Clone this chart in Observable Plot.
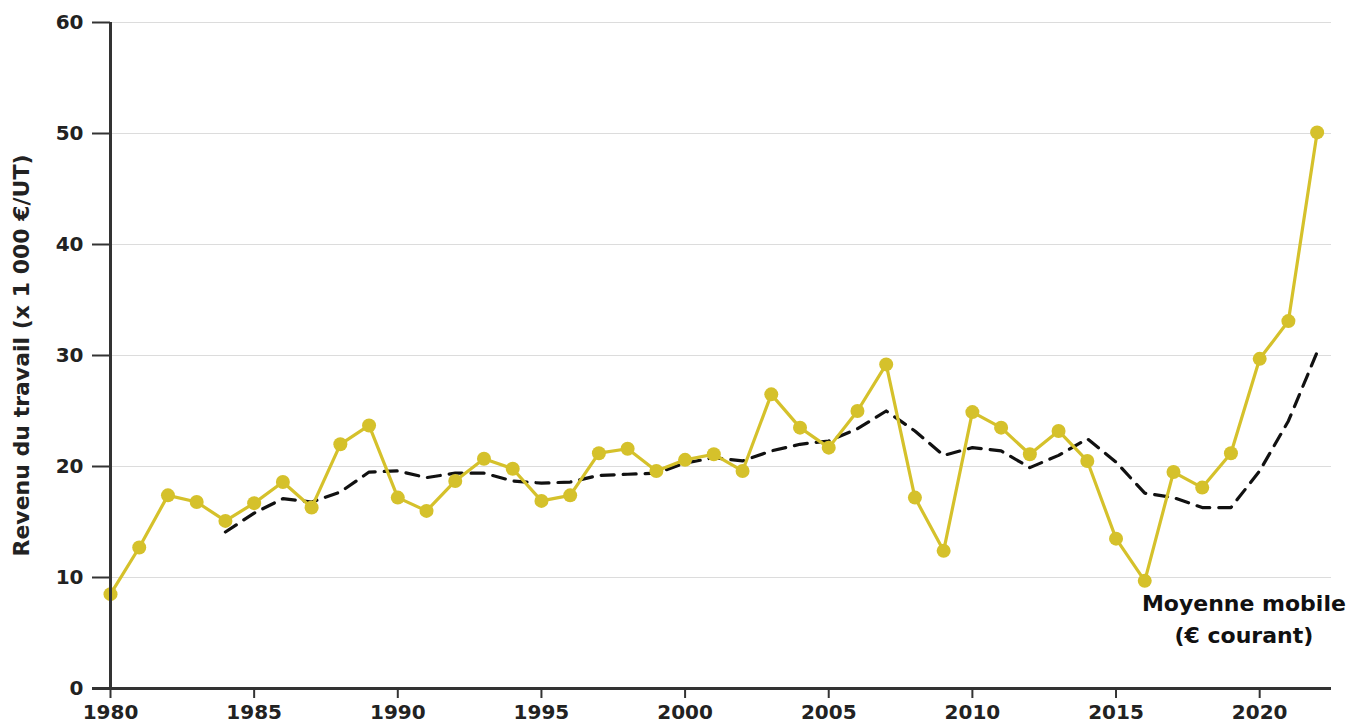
<!DOCTYPE html>
<html>
<head>
<meta charset="utf-8">
<script src="https://cdn.jsdelivr.net/npm/d3@7"></script>
<script src="https://cdn.jsdelivr.net/npm/@observablehq/plot@0.6"></script>
<style>
  html, body { margin: 0; padding: 0; background: #fff; }
  #chart { width: 1354px; height: 726px; overflow: hidden; }
</style>
</head>
<body>
<div id="chart"></div>
<script>
const years = d3.range(1980, 2023);
const revenu = [8.5, 12.7, 17.4, 16.8, 15.1, 16.7, 18.6, 16.3, 22.0, 23.7,
  17.2, 16.0, 18.7, 20.7, 19.8, 16.9, 17.4, 21.2, 21.6, 19.6,
  20.6, 21.1, 19.6, 26.5, 23.5, 21.7, 25.0, 29.2, 17.2, 12.4,
  24.9, 23.5, 21.1, 23.2, 20.5, 13.5, 9.7, 19.5, 18.1, 21.2,
  29.7, 33.1, 50.1];
const maYears = d3.range(1984, 2023);
const moyenneMobile = [14.1, 15.8, 17.1, 16.8, 17.7, 19.5,
  19.6, 19.0, 19.4, 19.4, 18.7, 18.5, 18.6, 19.2, 19.3, 19.4,
  20.3, 20.8, 20.5, 21.4, 22.0, 22.3, 23.4, 25.0, 23.2, 21.0,
  21.7, 21.4, 19.9, 21.0, 22.5, 20.4, 17.6, 17.2, 16.3, 16.3,
  19.6, 24.1, 30.3];
const yTicks = [0, 10, 20, 30, 40, 50, 60];
const xTicks = [1980, 1985, 1990, 1995, 2000, 2005, 2010, 2015, 2020];
const yLabel = "Revenu du travail (x 1 000 €/UT)";
const annotation = [{year: 2019.45, value: 6.5, text: "Moyenne mobile\n(€ courant)"}];

const series = years.map((y, i) => ({year: y, value: revenu[i]}));
const ma = maYears.map((y, i) => ({year: y, value: moyenneMobile[i]}));

const yellow = "#d5c12b";
const ink = "#222";
const font = "'DejaVu Sans', sans-serif";

const chart = Plot.plot({
  width: 1354,
  height: 726,
  marginLeft: 110,
  marginRight: 23,
  marginTop: 22,
  marginBottom: 38,
  style: {fontFamily: font, background: "#fff", overflow: "visible"},
  x: {domain: [1980, 2022.5]},
  y: {domain: [0, 60]},
  marks: [
    Plot.gridY(yTicks, {stroke: "#dcdcdc", strokeOpacity: 1, strokeWidth: 1.2}),
    Plot.line(ma, {x: "year", y: "value", stroke: "#111", strokeWidth: 3.2, strokeDasharray: "13,9"}),
    Plot.line(series, {x: "year", y: "value", stroke: yellow, strokeWidth: 3.2}),
    Plot.dot(series, {x: "year", y: "value", r: 7, fill: yellow}),
    Plot.ruleX([1980], {stroke: "#333", strokeWidth: 3}),
    Plot.ruleY([0], {stroke: "#333", strokeWidth: 3, insetLeft: -18}),
    Plot.axisY({ticks: yTicks, tickSize: 18, tickPadding: 9, fontSize: 20, fontWeight: "bold",
      stroke: "#333", strokeWidth: 2, color: ink, label: null}),
    Plot.axisX({ticks: xTicks, tickFormat: d => String(d), tickSize: 10, tickPadding: 6,
      fontSize: 20, fontWeight: "bold", stroke: "#333", strokeWidth: 2, color: ink, label: null}),
    Plot.text([yLabel], {frameAnchor: "left", dx: -89, rotate: -90, text: d => d, textAnchor: "middle",
      fontSize: 22, fontWeight: "bold", fill: ink}),
    Plot.text(annotation, {x: "year", y: "value", text: "text", fontSize: 22, fontWeight: "bold",
      fill: "#111", lineHeight: 1.45, textAnchor: "middle"})
  ]
});
document.getElementById("chart").appendChild(chart);
</script>
</body>
</html>
